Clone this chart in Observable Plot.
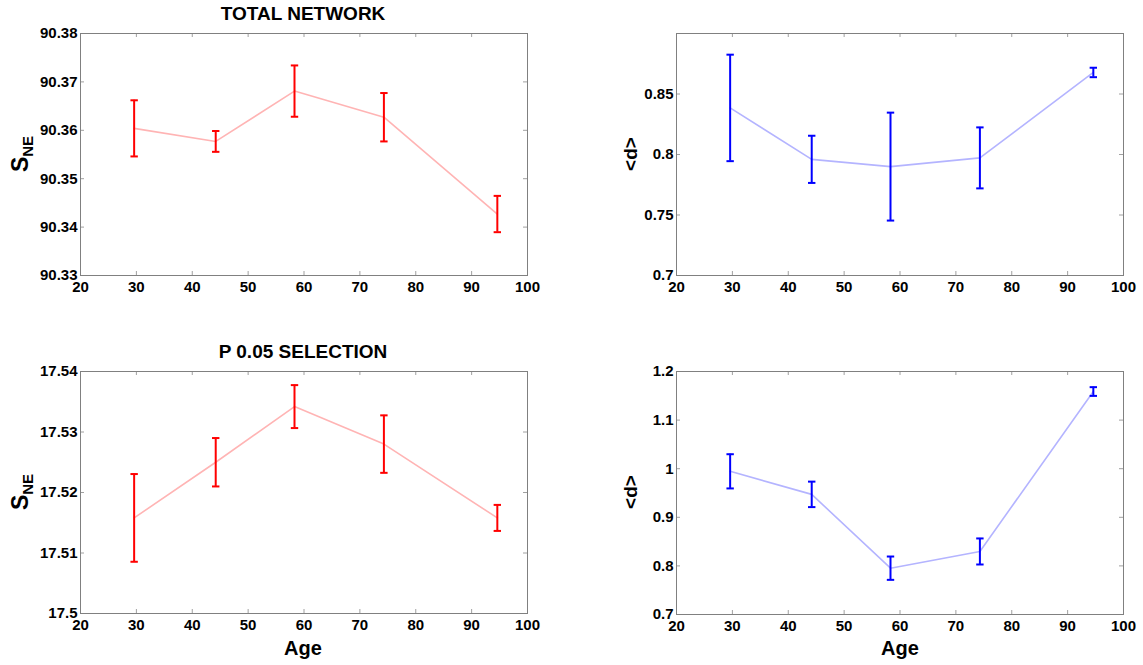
<!DOCTYPE html>
<html><head><meta charset="utf-8">
<script src="https://cdn.jsdelivr.net/npm/d3@7"></script>
<script src="https://cdn.jsdelivr.net/npm/@observablehq/plot@0.6"></script>
<style>
body{margin:0;background:#fff;font-family:"Liberation Sans",Arial,sans-serif;}
#wrap{position:relative;width:1143px;height:665px;overflow:hidden;}
.panel{position:absolute;}
.txt{position:absolute;font-weight:bold;transform:translate(-50%,-50%);white-space:nowrap;color:#000;line-height:1;}
.ylab{position:absolute;font-weight:bold;transform:translate(-50%,-50%) rotate(-90deg);white-space:nowrap;color:#000;line-height:1;}
.ylab sub{font-size:15px;vertical-align:-5px;}
</style></head><body><div id="wrap"></div>
<script>
// ---- data ----
const ages = [29.6, 44.2, 58.3, 74.3, 94.6];
const xTicks = [20, 30, 40, 50, 60, 70, 80, 90, 100];

const totalSNE = [90.3604, 90.3577, 90.3681, 90.3627, 90.3427];
const totalSNEErr = [0.0058, 0.00215, 0.0053, 0.0050, 0.00375];
const totalSNETicks = [90.33, 90.34, 90.35, 90.36, 90.37, 90.38];

const totalD = [0.8385, 0.7960, 0.7900, 0.7972, 0.8678];
const totalDErr = [0.0440, 0.0195, 0.0446, 0.0252, 0.0039];
const totalDTicks = [0.7, 0.75, 0.8, 0.85];

const selSNE = [17.5158, 17.5250, 17.5342, 17.5280, 17.5158];
const selSNEErr = [0.00725, 0.0040, 0.00355, 0.00475, 0.00215];
const selSNETicks = [17.5, 17.51, 17.52, 17.53, 17.54];

const selD = [0.9946, 0.9472, 0.7953, 0.8297, 1.1588];
const selDErr = [0.0352, 0.0262, 0.0240, 0.0268, 0.0090];
const selDTicks = [0.7, 0.8, 0.9, 1.0, 1.1, 1.2];

// ---- drawing ----
const wrap = document.getElementById("wrap");
const fmt = d3.format("~g");
const capSymbol = {draw(ctx, size){ const r = Math.sqrt(size / Math.PI); ctx.moveTo(-r, 0); ctx.lineTo(r, 0); }};

function panel(o){
  const data = ages.map((a, i) => ({age: a, m: o.means[i], lo: o.means[i] - o.errs[i], hi: o.means[i] + o.errs[i]}));
  const ph = o.height - o.mt - o.mb, pw = o.width - o.ml - o.mr, tl = 4;
  const tickStroke = "#a0a0a0";
  const p = Plot.plot({
    width: o.width, height: o.height,
    marginLeft: o.ml, marginRight: o.mr, marginTop: o.mt, marginBottom: o.mb,
    x: {domain: [20, 100]},
    y: {domain: o.yDomain},
    style: {fontFamily: "Liberation Sans, Arial, sans-serif", fontSize: "15px", fontWeight: "bold", color: "#000", background: "transparent", overflow: "visible"},
    marks: [
      Plot.tickX(xTicks, {x: d => d, insetTop: ph - tl, stroke: tickStroke}),
      Plot.tickX(xTicks, {x: d => d, insetBottom: ph - tl, stroke: tickStroke}),
      Plot.tickY(o.yTicks, {y: d => d, insetRight: pw - tl, stroke: tickStroke}),
      Plot.tickY(o.yTicks, {y: d => d, insetLeft: pw - tl, stroke: tickStroke}),
      Plot.frame({stroke: "#808080"}),
      Plot.axisX(xTicks, {tickSize: 0, tickPadding: 6, tickFormat: fmt, label: null, fill: "#000", fontSize: 15}),
      Plot.axisY(o.yTicks, {tickSize: 0, tickPadding: 3, tickFormat: fmt, label: null, fill: "#000", fontSize: 15}),
      Plot.line(data, {x: "age", y: "m", stroke: o.lineColor, strokeWidth: 1.6}),
      Plot.ruleX(data, {x: "age", y1: "lo", y2: "hi", stroke: o.barColor, strokeWidth: 2}),
      Plot.dot(data, {x: "age", y: "lo", symbol: capSymbol, r: 3.7, stroke: o.barColor, strokeWidth: 2}),
      Plot.dot(data, {x: "age", y: "hi", symbol: capSymbol, r: 3.7, stroke: o.barColor, strokeWidth: 2})
    ]
  });
  const d = document.createElement("div");
  d.className = "panel";
  d.style.left = o.left + "px"; d.style.top = o.top + "px";
  d.appendChild(p);
  wrap.appendChild(d);
}

function label(cls, html, x, y, size){
  const d = document.createElement("div");
  d.className = cls;
  d.innerHTML = html;
  d.style.left = x + "px"; d.style.top = y + "px"; d.style.fontSize = size + "px";
  wrap.appendChild(d);
}

panel({left: 0, top: 0, width: 560, height: 300, ml: 80, mr: 33, mt: 33, mb: 25,
  yDomain: [90.33, 90.38], yTicks: totalSNETicks, means: totalSNE, errs: totalSNEErr,
  lineColor: "#ffb4b4", barColor: "#ff0000"});
panel({left: 580, top: 0, width: 563, height: 300, ml: 96, mr: 20, mt: 33, mb: 25,
  yDomain: [0.7, 0.9], yTicks: totalDTicks, means: totalD, errs: totalDErr,
  lineColor: "#b4b4ff", barColor: "#0000ff"});
panel({left: 0, top: 330, width: 560, height: 310, ml: 80, mr: 33, mt: 41, mb: 27,
  yDomain: [17.5, 17.54], yTicks: selSNETicks, means: selSNE, errs: selSNEErr,
  lineColor: "#ffb4b4", barColor: "#ff0000"});
panel({left: 580, top: 330, width: 563, height: 310, ml: 96, mr: 20, mt: 41, mb: 26,
  yDomain: [0.7, 1.2], yTicks: selDTicks, means: selD, errs: selDErr,
  lineColor: "#b4b4ff", barColor: "#0000ff"});

label("txt", "TOTAL NETWORK", 303, 13, 19);
label("txt", "P 0.05 SELECTION", 303, 351, 19);
label("txt", "Age", 303, 648, 20);
label("txt", "Age", 900, 648, 20);
label("ylab", "S<sub>NE</sub>", 22, 154, 23);
label("ylab", "S<sub>NE</sub>", 22, 492, 23);
label("ylab", "&lt;d&gt;", 630, 154, 19);
label("ylab", "&lt;d&gt;", 630, 492, 19);
</script>
</body></html>
